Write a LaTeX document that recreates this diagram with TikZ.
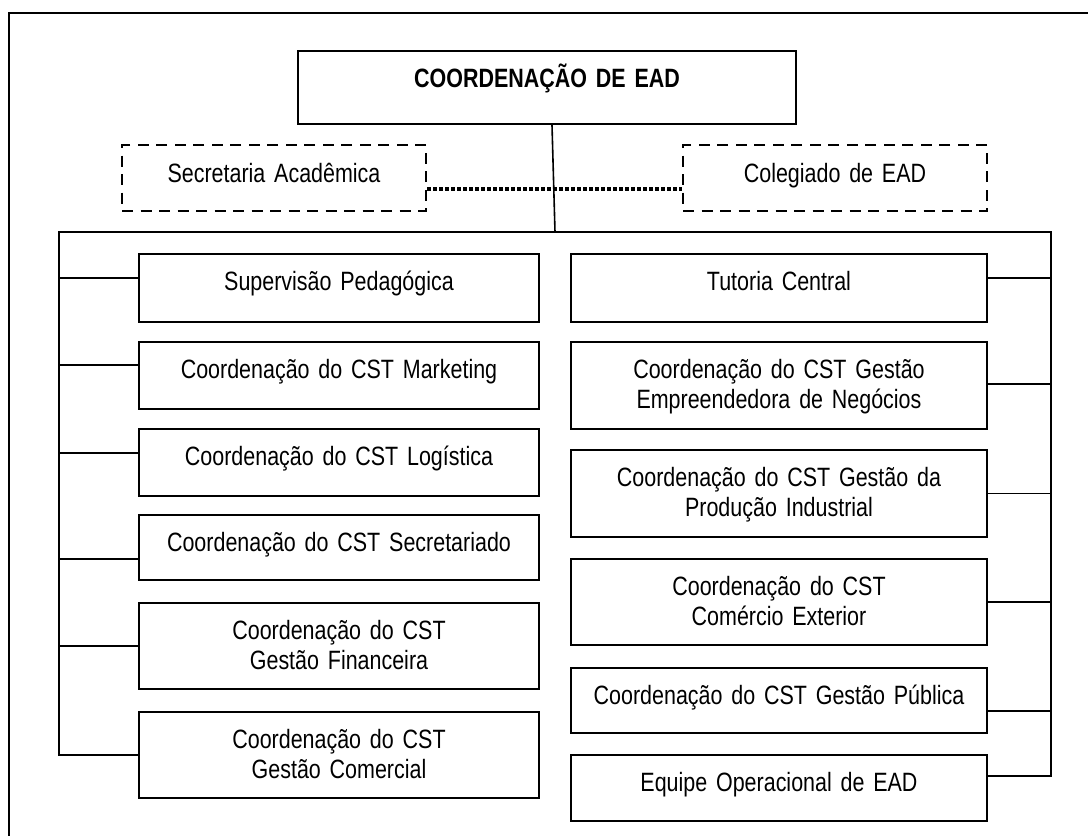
\documentclass[tikz,border=0pt]{standalone}
\usepackage{fontspec}
\setmainfont{Liberation Sans}[FakeStretch=0.81]
\newcommand{\boxfont}{\fontsize{26.5}{30}\selectfont\fontdimen2\font=5.8pt\fontdimen3\font=0pt\fontdimen4\font=0pt\relax}
\newcommand{\headfont}{\fontsize{26.5}{30}\selectfont\bfseries\fontdimen2\font=6.2pt\fontdimen3\font=0pt\fontdimen4\font=0pt\relax}

\begin{document}
\begin{tikzpicture}
[x=1pt, y=-1pt, font=\boxfont, draw=black, line width=1.6pt,
head/.style={rectangle, draw, line width=2pt, inner sep=0pt, anchor=north, align=center, text width=498pt, text height=36pt, text depth=37pt, font=\headfont},
advisory/.style={rectangle, draw, line width=2pt, dash pattern=on 11pt off 7.5pt, inner sep=0pt, anchor=north, align=center, text width=304pt, text height=37pt, text depth=29pt},
unitL/.style={rectangle, draw, line width=2pt, inner sep=0pt, anchor=north, align=center, text width=400pt, text height=36pt},
unitR/.style={rectangle, draw, line width=2pt, inner sep=0pt, anchor=north, align=center, text width=416pt, text height=36pt},
link/.style={line width=1.6pt},
dotlink/.style={line width=3.5pt, dash pattern=on 3.5pt off 2.5pt}]

\clip (0,0) rectangle (1088,836);
\draw[line width=2pt] (9,13) rectangle (1100,860);

\node[head] (coord) at (547,50) {COORDENAÇÃO DE EAD};

\node[advisory] (secretaria) at (274,144) {Secretaria Acadêmica};
\node[advisory] (colegiado) at (835,144) {Colegiado de EAD};

\node[unitL, text depth=32pt] (supervisao) at (339,253) {Supervisão Pedagógica};
\node[unitL, text depth=31pt] (marketing) at (339,341) {Coordenação do CST Marketing};
\node[unitL, text depth=31pt] (logistica) at (339,428) {Coordenação do CST Logística};
\node[unitL, text depth=29pt] (secretariado) at (339,514) {Coordenação do CST Secretariado};
\node[unitL, text depth=50pt] (financeira) at (339,602) {Coordenação do CST\\Gestão Financeira};
\node[unitL, text depth=50pt] (comercial) at (339,711) {Coordenação do CST\\Gestão Comercial};

\node[unitR, text depth=32pt] (tutoria) at (779,253) {Tutoria Central};
\node[unitR, text depth=51pt] (empreendedora) at (779,341) {Coordenação do CST Gestão\\Empreendedora de Negócios};
\node[unitR, text depth=51pt] (producao) at (779,449) {Coordenação do CST Gestão da\\Produção Industrial};
\node[unitR, text depth=50pt] (exterior) at (779,558) {Coordenação do CST\\Comércio Exterior};
\node[unitR, text depth=29pt] (publica) at (779,667) {Coordenação do CST Gestão Pública};
\node[unitR, text depth=30pt] (equipe) at (779,754) {Equipe Operacional de EAD};

\coordinate (busL) at (59,232);
\coordinate (busM) at (555,232);
\coordinate (busR) at (1051,232);

% tronco
\draw[link] ([xshift=5pt]coord.south) -- (busM);
\draw[dotlink] ([yshift=-11pt]secretaria.east) -- ([yshift=-11pt]colegiado.west);
\draw[link] (comercial.west) -| (busL) -- (busR) |- ([yshift=12pt]equipe.east);

% ramos esquerda
\draw[link] ([yshift=10pt]supervisao.west) -- ([yshift=10pt]supervisao.west -| busL);
\draw[link] ([yshift=10.5pt]marketing.west) -- ([yshift=10.5pt]marketing.west -| busL);
\draw[link] ([yshift=9.5pt]logistica.west) -- ([yshift=9.5pt]logistica.west -| busL);
\draw[link] ([yshift=-11.5pt]secretariado.west) -- ([yshift=-11.5pt]secretariado.west -| busL);
\draw[link] (financeira.west) -- (financeira.west -| busL);

% ramos direita
\draw[link] ([yshift=10pt]tutoria.east) -- ([yshift=10pt]tutoria.east -| busR);
\draw[link] ([yshift=1.5pt]empreendedora.east) -- ([yshift=1.5pt]empreendedora.east -| busR);
\draw[link] (producao.east) -- (producao.east -| busR);
\draw[link] (exterior.east) -- (exterior.east -| busR);
\draw[link] ([yshift=-10.5pt]publica.east) -- ([yshift=-10.5pt]publica.east -| busR);
\end{tikzpicture}
\end{document}
